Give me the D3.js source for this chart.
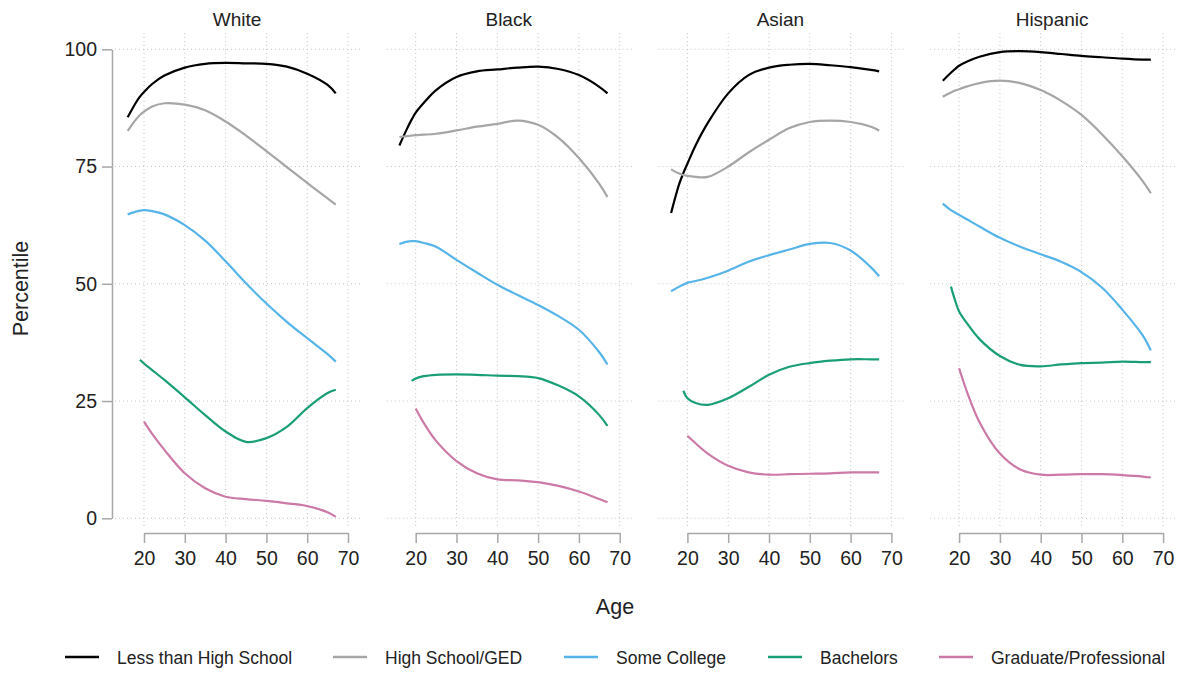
<!DOCTYPE html>
<html>
<head>
<meta charset="utf-8">
<script src="https://cdn.jsdelivr.net/npm/d3@7"></script>
<style>
  body { margin: 0; background: #fff; }
  svg { font-family: "Liberation Sans", Arial, sans-serif; }
</style>
</head>
<body>
<div id="chart"></div>
<script>
'use strict';

const ages   = [16, 18, 19, 20, 22, 25, 30, 35, 40, 45, 50, 55, 60, 65, 67];
const panels = ['White', 'Black', 'Asian', 'Hispanic'];
const levels = ['Less than High School', 'High School/GED', 'Some College', 'Bachelors', 'Graduate/Professional'];
const yTicks = [0, 25, 50, 75, 100];
const xTicks = [20, 30, 40, 50, 60, 70];

// one row per education level, null = curve not started yet
const white = [
    [85.5, 88.6, 89.9, 90.9, 92.6, 94.4, 96.1, 96.9, 97.1, 97.0, 96.9, 96.3, 94.8, 92.4, 90.6],
    [82.6, 85.0, 86.0, 86.7, 87.8, 88.5, 88.2, 87.0, 84.6, 81.6, 78.3, 74.9, 71.5, 68.2, 66.9],
    [64.8, 65.4, 65.6, 65.7, 65.5, 64.8, 62.5, 59.2, 54.8, 50.1, 45.8, 41.9, 38.4, 35.0, 33.4],
    [null, null, 33.8, 33.0, 31.6, 29.5, 25.8, 22.0, 18.5, 16.3, 17.1, 19.5, 23.5, 26.7, 27.4],
    [null, null, null, 20.6, 18.0, 14.6,  9.6,  6.4,  4.6,  4.1,  3.7,  3.2,  2.6,  1.3,  0.3]
];
const black = [
    [79.5, 83.3, 85.0, 86.5, 88.6, 91.3, 94.1, 95.3, 95.7, 96.1, 96.3, 95.8, 94.5, 92.0, 90.6],
    [81.3, 81.5, 81.6, 81.7, 81.8, 82.0, 82.7, 83.5, 84.1, 84.8, 83.9, 81.1, 76.8, 71.3, 68.5],
    [58.5, 59.0, 59.1, 59.1, 58.7, 57.9, 55.1, 52.4, 49.8, 47.6, 45.5, 43.1, 40.2, 35.4, 32.8],
    [null, null, 29.3, 29.8, 30.3, 30.6, 30.7, 30.6, 30.4, 30.3, 29.9, 28.3, 26.0, 22.0, 19.7],
    [null, null, null, 23.4, 20.3, 16.5, 12.2,  9.6,  8.3,  8.1,  7.7,  6.9,  5.7,  4.1,  3.4]
];
const asian = [
    [65.1, 71.3, 73.6, 75.6, 79.5, 84.3, 90.6, 94.5, 96.1, 96.7, 96.9, 96.6, 96.2, 95.6, 95.3],
    [74.4, 73.5, 73.2, 73.0, 72.8, 72.8, 75.0, 78.0, 80.7, 83.2, 84.5, 84.8, 84.5, 83.5, 82.7],
    [48.4, 49.4, 49.8, 50.2, 50.6, 51.3, 52.8, 54.7, 56.1, 57.3, 58.5, 58.7, 57.1, 53.5, 51.6],
    [null, null, 27.2, 25.6, 24.6, 24.2, 25.6, 28.0, 30.6, 32.3, 33.1, 33.6, 33.9, 33.9, 33.9],
    [null, null, null, 17.6, 16.0, 13.8, 11.2,  9.8,  9.3,  9.4,  9.5,  9.6,  9.8,  9.8,  9.8]
];
const hispanic = [
    [93.3, 95.0, 95.8, 96.5, 97.4, 98.4, 99.4, 99.6, 99.4, 99.0, 98.6, 98.3, 98.0, 97.8, 97.8],
    [89.9, 90.8, 91.2, 91.5, 92.1, 92.8, 93.3, 92.8, 91.3, 89.0, 86.0, 81.9, 77.2, 71.9, 69.3],
    [67.1, 65.7, 65.2, 64.7, 63.7, 62.2, 59.8, 57.9, 56.3, 54.7, 52.5, 49.2, 44.5, 39.0, 35.8],
    [null, 49.4, 46.5, 44.1, 41.5, 38.2, 34.6, 32.7, 32.4, 32.8, 33.1, 33.2, 33.4, 33.3, 33.3],
    [null, null, null, 32.0, 26.8, 20.5, 13.8, 10.4,  9.3,  9.3,  9.4,  9.4,  9.2,  8.9,  8.7]
];
const panelData = [white, black, asian, hispanic];

const colors = ['#000000', '#a6a6a6', '#56b4e9', '#1a9e77', '#cc79a7'];

const width  = 1183;
const height = 673;
const panelStep = 271.7;      // distance between the four panels
const plotLeft  = 112;        // left edge of first plot region
const plotRight = 360;
const plotTop   = 33;
const plotBot   = 528;
const axisY     = 533;        // x axis sits just below the plot region
const textCol   = '#222';
const axisCol   = '#a8a8a8';
const gridCol   = '#c6c6c6';

const y = d3.scaleLinear().domain([0, 100]).range([518.3, 49.3]);

const svg = d3.select('#chart').append('svg')
    .attr('width', width)
    .attr('height', height);

panels.forEach(function(name, p) {
    const off = p * panelStep;
    const x = d3.scaleLinear().domain([20, 70]).range([144 + off, 348 + off]);
    const g = svg.append('g');

    // dotted grid
    g.selectAll('.hgrid').data(yTicks).enter().append('line')
        .attr('x1', plotLeft + off + 3).attr('x2', plotRight + off)
        .attr('y1', d => y(d)).attr('y2', d => y(d))
        .attr('stroke', gridCol).attr('stroke-width', 1).attr('stroke-dasharray', '1,3');
    g.selectAll('.vgrid').data(xTicks).enter().append('line')
        .attr('x1', d => x(d)).attr('x2', d => x(d))
        .attr('y1', plotTop).attr('y2', plotBot)
        .attr('stroke', gridCol).attr('stroke-width', 1).attr('stroke-dasharray', '1,3');

    // x axis
    const xAxis = g.append('g')
        .attr('transform', 'translate(0,' + axisY + ')')
        .call(d3.axisBottom(x).tickValues(xTicks).tickSize(10).tickSizeOuter(0).tickPadding(8));
    xAxis.select('.domain').attr('stroke', axisCol).attr('stroke-width', 1.5);
    xAxis.selectAll('.tick line').attr('stroke', axisCol).attr('stroke-width', 1.5);
    xAxis.selectAll('text').attr('fill', textCol).attr('font-size', 19.5)
        .attr('font-family', '"Liberation Sans", Arial, sans-serif');

    // y axis only on the first panel
    if (p === 0) {
        const yAxis = g.append('g')
            .attr('transform', 'translate(' + plotLeft + ',0)')
            .call(d3.axisLeft(y).tickValues(yTicks).tickSize(10).tickSizeOuter(0).tickPadding(5));
        yAxis.select('.domain').attr('stroke', axisCol).attr('stroke-width', 1.5);
        yAxis.selectAll('.tick line').attr('stroke', axisCol).attr('stroke-width', 1.5);
        yAxis.selectAll('text').attr('fill', textCol).attr('font-size', 19.5)
            .attr('font-family', '"Liberation Sans", Arial, sans-serif');
    }

    // panel title
    g.append('text')
        .attr('x', (plotLeft + plotRight) / 2 + off + 1)
        .attr('y', 26)
        .attr('text-anchor', 'middle')
        .attr('font-size', 19)
        .attr('fill', textCol)
        .text(name);

    const line = d3.line()
        .defined(d => d[1] !== null)
        .x(d => x(d[0]))
        .y(d => y(d[1]))
        .curve(d3.curveCatmullRom.alpha(0.5));

    panelData[p].forEach(function(vals, k) {
        const pts = ages.map((a, i) => [a, vals[i]]);
        g.append('path')
            .attr('d', line(pts))
            .attr('fill', 'none')
            .attr('stroke', colors[k])
            .attr('stroke-width', 2.2)
            .attr('stroke-linejoin', 'round');
    });
});

// axis titles
svg.append('text')
    .attr('transform', 'translate(28,288.5) rotate(-90)')
    .attr('text-anchor', 'middle')
    .attr('font-size', 21.5)
    .attr('fill', textCol)
    .text('Percentile');

svg.append('text')
    .attr('x', 615)
    .attr('y', 614)
    .attr('text-anchor', 'middle')
    .attr('font-size', 21.5)
    .attr('fill', textCol)
    .text('Age');

// legend
const legendX = [65, 333, 564, 768, 939];
const legend = svg.append('g');
levels.forEach(function(lbl, k) {
    legend.append('line')
        .attr('x1', legendX[k]).attr('x2', legendX[k] + 34)
        .attr('y1', 657).attr('y2', 657)
        .attr('stroke', colors[k]).attr('stroke-width', 2.6);
    legend.append('text')
        .attr('x', legendX[k] + 52)
        .attr('y', 663.5)
        .attr('font-size', 17.5)
        .attr('fill', textCol)
        .text(lbl);
});
</script>
</body>
</html>
